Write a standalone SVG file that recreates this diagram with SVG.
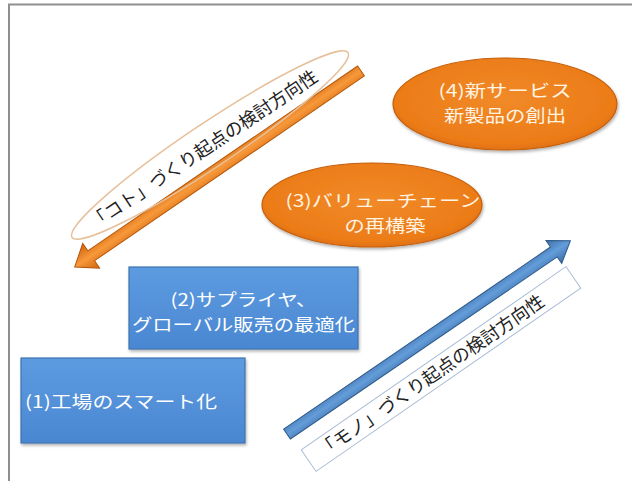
<svg xmlns="http://www.w3.org/2000/svg" width="632" height="481" viewBox="0 0 632 481">
  <defs>
    <linearGradient id="gBox" x1="0" y1="0" x2="0" y2="1">
      <stop offset="0" stop-color="#5d9be0"/>
      <stop offset="1" stop-color="#4a87d2"/>
    </linearGradient>
    <radialGradient id="gOrange" cx="0.5" cy="0.45" r="0.6">
      <stop offset="0" stop-color="#f18a28"/>
      <stop offset="0.8" stop-color="#ec7c18"/>
      <stop offset="1" stop-color="#d96a0e"/>
    </radialGradient>
    <linearGradient id="gArrO" x1="0" y1="0" x2="0" y2="1">
      <stop offset="0" stop-color="#d0640c"/>
      <stop offset="0.5" stop-color="#f7993a"/>
      <stop offset="1" stop-color="#cf620c"/>
    </linearGradient>
    <linearGradient id="gArrB" x1="0" y1="0" x2="0" y2="1">
      <stop offset="0" stop-color="#3e6ea6"/>
      <stop offset="0.5" stop-color="#639dda"/>
      <stop offset="1" stop-color="#3d6ca4"/>
    </linearGradient>
    <filter id="sh" x="-10%" y="-10%" width="120%" height="130%">
      <feDropShadow dx="1" dy="2" stdDeviation="1.5" flood-color="#000" flood-opacity="0.3"/>
    </filter>
  </defs>
  <style>
    .box { fill: url(#gBox); stroke: #3e74b0; stroke-width: 1.2; filter: url(#sh); }
    .ell { fill: url(#gOrange); stroke: #c45f0c; stroke-width: 1.2; filter: url(#sh); }
    .t { font-family: "Noto Sans CJK JP", "Noto Sans", sans-serif; font-size: 17px; }
    .tw { fill: #ffffff; }
    .to { fill: #fff3e3; }
    .lab { font-family: "Noto Sans CJK JP", "Noto Sans", sans-serif; font-size: 18px; fill: #222; }
    .frame { fill: none; stroke: #8f8f8f; stroke-width: 2; }
  </style>

  <rect x="0" y="0" width="632" height="481" fill="#fff"/>
  <path class="frame" d="M9,481 V4.5 H632"/>

  <g id="connectors">
    <g id="arrow-koto" transform="translate(361,71) rotate(145.6)">
      <path d="M0,-6 H327 V-15 L347,0 L327,15 V6 H0 Z" fill="url(#gArrO)" stroke="#b6570a" stroke-width="1"/>
    </g>
    <g id="arrow-mono" transform="translate(287,434) rotate(-34.3)">
      <path d="M0,-6 H323 V-14 L343,0 L323,14 V6 H0 Z" fill="url(#gArrB)" stroke="#2f5a8a" stroke-width="1"/>
    </g>
  </g>

  <g id="label-koto" transform="translate(210,145) rotate(-33.8)">
    <ellipse cx="0" cy="0" rx="166" ry="22" fill="none" stroke="#e6c09a" stroke-width="1.5"/>
    <text class="lab" x="-8" y="6.5" text-anchor="middle">「コト」づくり起点の検討方向性</text>
  </g>

  <g id="label-mono" transform="translate(441,369) rotate(-34.7)">
    <rect x="-161" y="-13" width="322" height="26" fill="#fff" stroke="#a9bcd6" stroke-width="1"/>
    <text class="lab" x="-12" y="6.5" text-anchor="middle">「モノ」づくり起点の検討方向性</text>
  </g>

  <g id="node1">
    <rect class="box" x="21" y="358" width="224" height="85"/>
    <text class="t tw" x="25" y="408" textLength="192" lengthAdjust="spacingAndGlyphs">(1)工場のスマート化</text>
  </g>

  <g id="node2">
    <rect class="box" x="129" y="267" width="229" height="82"/>
    <text class="t tw" x="243.5" y="306" text-anchor="middle" textLength="146" lengthAdjust="spacingAndGlyphs">(2)サプライヤ、</text>
    <text class="t tw" x="243.5" y="331" text-anchor="middle" textLength="223" lengthAdjust="spacingAndGlyphs">グローバル販売の最適化</text>
  </g>

  <g id="node3">
    <ellipse class="ell" cx="372" cy="205" rx="110" ry="42"/>
    <text class="t to" x="383" y="206.5" text-anchor="middle" textLength="195" lengthAdjust="spacingAndGlyphs">(3)バリューチェーン</text>
    <text class="t to" x="385" y="231.5" text-anchor="middle" textLength="81" lengthAdjust="spacingAndGlyphs">の再構築</text>
  </g>

  <g id="node4">
    <ellipse class="ell" cx="505" cy="104" rx="112" ry="46"/>
    <text class="t to" x="505" y="97" text-anchor="middle" textLength="133" lengthAdjust="spacingAndGlyphs">(4)新サービス</text>
    <text class="t to" x="505" y="122" text-anchor="middle" textLength="122" lengthAdjust="spacingAndGlyphs">新製品の創出</text>
  </g>
</svg>
